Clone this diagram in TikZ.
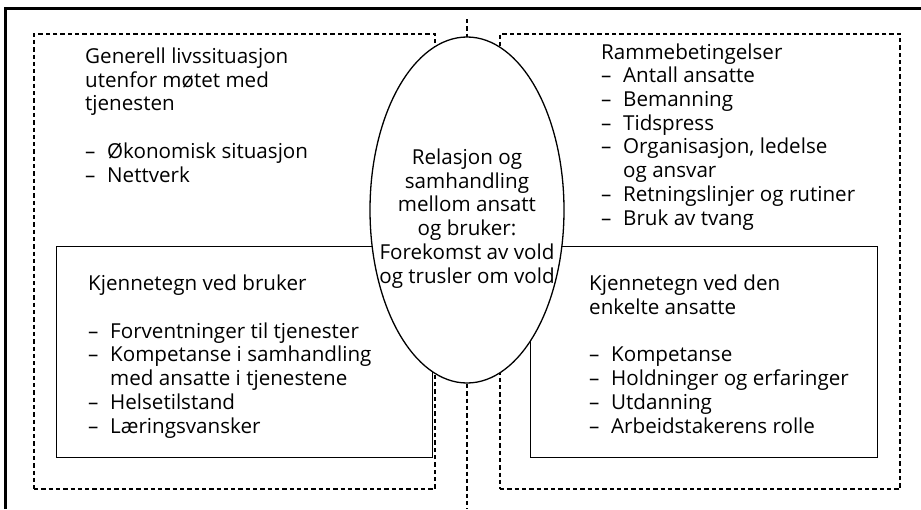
\documentclass[tikz,border=0pt]{standalone}
\usepackage{fontspec}
\setmainfont{Open Sans}
\usetikzlibrary{shapes.geometric}

\newcommand{\itm}[1]{\makebox[22pt][l]{--}#1}
\newcommand{\cnt}[1]{\hspace*{22pt}#1}

\begin{document}
\begin{tikzpicture}[
  x=1pt,y=-1pt,
  frame/.style={line width=2.6pt},
  zone/.style={draw,line width=2pt,dash pattern=on 4.3pt off 3pt},
  kbox/.style={draw,line width=1.3pt},
  txt/.style={anchor=base west,align=left,inner sep=0pt,font=\fontsize{20.6}{23.7}\selectfont}]
\useasboundingbox (0,0) rectangle (921,509);
% outer frame, cut at the page edge
\coordinate (fr0) at (5.5,509);
\coordinate (fr1) at (5.5,8.5);
\coordinate (fr2) at (921,8.5);
\draw[frame] (fr0) -- (fr1) -- (fr2);
% the two dotted areas and the middle line
\node[zone,inner sep=0pt,minimum width=401pt,minimum height=455pt,anchor=north west] (left) at (33,33) {};
\node[zone,inner sep=0pt,minimum width=400pt,minimum height=455pt,anchor=north west] (right) at (499,33) {};
\coordinate (mtop) at (467,19);
\coordinate (mbot) at (467,509);
\draw[zone] (mtop) -- (mbot);
% solid boxes
\node[kbox,inner sep=0pt,minimum width=376pt,minimum height=211pt,anchor=north west] (bruker) at (56,246) {};
\node[kbox,inner sep=0pt,minimum width=347pt,minimum height=211pt,anchor=north west] (ansatt) at (530,246) {};
% ellipse in the middle
\node[ellipse,draw,line width=1.3pt,fill=white,inner sep=0pt,minimum width=194pt,minimum height=346pt] (rel) at (467,210) {};
% texts (base = last line)
\node[txt] (gentxt) at (85,182) {Generell livssituasjon\\utenfor møtet med\\tjenesten\\[23.7pt]
  \itm{Økonomisk situasjon}\\\itm{Nettverk}};
\node[txt] (rammetxt) at (601,225) {Rammebetingelser\\\itm{Antall ansatte}\\\itm{Bemanning}\\\itm{Tidspress}\\
  \itm{Organisasjon, ledelse}\\\cnt{og ansvar}\\\itm{Retningslinjer og rutiner}\\\itm{Bruk av tvang}};
\node[txt] (brukertxt) at (88,433) {Kjennetegn ved bruker\\[23.7pt]
  \itm{Forventninger til tjenester}\\\itm{Kompetanse i samhandling}\\\cnt{med ansatte i tjenestene}\\
  \itm{Helsetilstand}\\\itm{Læringsvansker}};
\node[txt] (ansatttxt) at (589,433) {Kjennetegn ved den\\enkelte ansatte\\[23.7pt]
  \itm{Kompetanse}\\\itm{Holdninger og erfaringer}\\\itm{Utdanning}\\\itm{Arbeidstakerens rolle}};
\node[txt,anchor=base,align=center] (reltxt) at (467,283) {Relasjon og\\samhandling\\mellom ansatt\\og bruker:\\Forekomst av vold\\og trusler om vold};
\end{tikzpicture}
\end{document}
